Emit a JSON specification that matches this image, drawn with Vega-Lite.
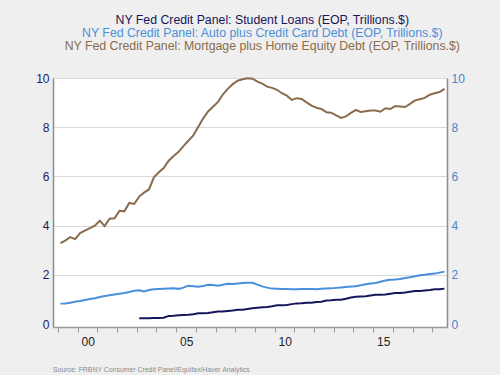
{
  "$schema": "https://vega.github.io/schema/vega-lite/v6.json",
  "autosize": {"type": "none"},
  "width": 394,
  "height": 249,
  "padding": {"left": 53, "top": 78, "right": 53, "bottom": 48},
  "background": "#efefef",
  "config": {"font": "Liberation Sans", "view": {"fill": "white", "stroke": null}},
  "title": {"text": "Source:  FRBNY Consumer Credit Panel/Equifax/Haver Analytics", "orient": "bottom", "anchor": "start", "frame": "group", "fontSize": 6.9, "fontWeight": "normal", "color": "#8a8a8a", "offset": 20},
  "data": {"values": [
    {"d": "1999-02-15", "a": 0.83, "m": 3.29},
    {"d": "1999-05-15", "a": 0.84, "m": 3.39},
    {"d": "1999-08-15", "a": 0.87, "m": 3.53},
    {"d": "1999-11-15", "a": 0.91, "m": 3.45},
    {"d": "2000-02-15", "a": 0.94, "m": 3.70},
    {"d": "2000-05-15", "a": 0.98, "m": 3.80},
    {"d": "2000-08-15", "a": 1.02, "m": 3.90},
    {"d": "2000-11-15", "a": 1.05, "m": 4.00},
    {"d": "2001-02-15", "a": 1.10, "m": 4.20},
    {"d": "2001-05-15", "a": 1.14, "m": 3.98},
    {"d": "2001-08-15", "a": 1.17, "m": 4.28},
    {"d": "2001-11-15", "a": 1.20, "m": 4.30},
    {"d": "2002-02-15", "a": 1.23, "m": 4.60},
    {"d": "2002-05-15", "a": 1.26, "m": 4.58},
    {"d": "2002-08-15", "a": 1.30, "m": 4.92},
    {"d": "2002-11-15", "a": 1.35, "m": 4.88},
    {"d": "2003-02-15", "s": 0.24, "a": 1.37, "m": 5.18},
    {"d": "2003-05-15", "s": 0.24, "a": 1.32, "m": 5.34},
    {"d": "2003-08-15", "s": 0.24, "a": 1.38, "m": 5.47},
    {"d": "2003-11-15", "s": 0.25, "a": 1.41, "m": 5.96},
    {"d": "2004-02-15", "s": 0.25, "a": 1.42, "m": 6.17},
    {"d": "2004-05-15", "s": 0.26, "a": 1.43, "m": 6.34},
    {"d": "2004-08-15", "s": 0.33, "a": 1.44, "m": 6.64},
    {"d": "2004-11-15", "s": 0.34, "a": 1.45, "m": 6.83},
    {"d": "2005-02-15", "s": 0.36, "a": 1.43, "m": 7.00},
    {"d": "2005-05-15", "s": 0.37, "a": 1.48, "m": 7.23},
    {"d": "2005-08-15", "s": 0.38, "a": 1.56, "m": 7.45},
    {"d": "2005-11-15", "s": 0.40, "a": 1.54, "m": 7.67},
    {"d": "2006-02-15", "s": 0.44, "a": 1.52, "m": 8.02},
    {"d": "2006-05-15", "s": 0.44, "a": 1.55, "m": 8.35},
    {"d": "2006-08-15", "s": 0.45, "a": 1.60, "m": 8.64},
    {"d": "2006-11-15", "s": 0.48, "a": 1.59, "m": 8.83},
    {"d": "2007-02-15", "s": 0.51, "a": 1.56, "m": 9.03},
    {"d": "2007-05-15", "s": 0.51, "a": 1.60, "m": 9.33},
    {"d": "2007-08-15", "s": 0.53, "a": 1.64, "m": 9.56},
    {"d": "2007-11-15", "s": 0.55, "a": 1.63, "m": 9.75},
    {"d": "2008-02-15", "s": 0.58, "a": 1.65, "m": 9.89},
    {"d": "2008-05-15", "s": 0.58, "a": 1.67, "m": 9.95},
    {"d": "2008-08-15", "s": 0.61, "a": 1.68, "m": 9.99},
    {"d": "2008-11-15", "s": 0.64, "a": 1.68, "m": 9.97},
    {"d": "2009-02-15", "s": 0.66, "a": 1.60, "m": 9.85},
    {"d": "2009-05-15", "s": 0.68, "a": 1.53, "m": 9.77},
    {"d": "2009-08-15", "s": 0.69, "a": 1.48, "m": 9.65},
    {"d": "2009-11-15", "s": 0.72, "a": 1.44, "m": 9.60},
    {"d": "2010-02-15", "s": 0.76, "a": 1.43, "m": 9.52},
    {"d": "2010-05-15", "s": 0.76, "a": 1.42, "m": 9.38},
    {"d": "2010-08-15", "s": 0.77, "a": 1.42, "m": 9.28},
    {"d": "2010-11-15", "s": 0.81, "a": 1.41, "m": 9.11},
    {"d": "2011-02-15", "s": 0.84, "a": 1.41, "m": 9.18},
    {"d": "2011-05-15", "s": 0.85, "a": 1.42, "m": 9.15},
    {"d": "2011-08-15", "s": 0.87, "a": 1.42, "m": 9.01},
    {"d": "2011-11-15", "s": 0.87, "a": 1.42, "m": 8.88},
    {"d": "2012-02-15", "s": 0.90, "a": 1.41, "m": 8.79},
    {"d": "2012-05-15", "s": 0.91, "a": 1.43, "m": 8.74},
    {"d": "2012-08-15", "s": 0.96, "a": 1.44, "m": 8.61},
    {"d": "2012-11-15", "s": 0.97, "a": 1.45, "m": 8.59},
    {"d": "2013-02-15", "s": 0.99, "a": 1.47, "m": 8.48},
    {"d": "2013-05-15", "s": 0.99, "a": 1.49, "m": 8.38},
    {"d": "2013-08-15", "s": 1.03, "a": 1.51, "m": 8.44},
    {"d": "2013-11-15", "s": 1.08, "a": 1.53, "m": 8.58},
    {"d": "2014-02-15", "s": 1.11, "a": 1.54, "m": 8.70},
    {"d": "2014-05-15", "s": 1.12, "a": 1.58, "m": 8.62},
    {"d": "2014-08-15", "s": 1.13, "a": 1.62, "m": 8.65},
    {"d": "2014-11-15", "s": 1.16, "a": 1.65, "m": 8.68},
    {"d": "2015-02-15", "s": 1.19, "a": 1.67, "m": 8.68},
    {"d": "2015-05-15", "s": 1.19, "a": 1.72, "m": 8.63},
    {"d": "2015-08-15", "s": 1.20, "a": 1.77, "m": 8.77},
    {"d": "2015-11-15", "s": 1.23, "a": 1.80, "m": 8.74},
    {"d": "2016-02-15", "s": 1.26, "a": 1.81, "m": 8.86},
    {"d": "2016-05-15", "s": 1.26, "a": 1.83, "m": 8.84},
    {"d": "2016-08-15", "s": 1.28, "a": 1.87, "m": 8.82},
    {"d": "2016-11-15", "s": 1.31, "a": 1.90, "m": 8.95},
    {"d": "2017-02-15", "s": 1.34, "a": 1.94, "m": 9.09},
    {"d": "2017-05-15", "s": 1.34, "a": 1.98, "m": 9.14},
    {"d": "2017-08-15", "s": 1.36, "a": 2.00, "m": 9.19},
    {"d": "2017-11-15", "s": 1.38, "a": 2.03, "m": 9.32},
    {"d": "2018-02-15", "s": 1.41, "a": 2.05, "m": 9.38},
    {"d": "2018-05-15", "s": 1.41, "a": 2.09, "m": 9.43},
    {"d": "2018-08-15", "s": 1.44, "a": 2.13, "m": 9.56}
  ]},
  "transform": [{"fold": ["s", "a", "m"], "as": ["series", "value"]}],
  "layer": [
    {
      "mark": {"type": "line", "strokeWidth": 2},
      "encoding": {
        "x": {
          "field": "d", "type": "temporal",
          "scale": {"type": "utc", "domain": [{"year": 1998, "month": 10, "date": 1, "utc": true}, {"year": 2018, "month": 10, "date": 1, "utc": true}]},
          "axis": {
            "title": null, "grid": false,
            "values": [{"year": 1999, "utc": true}, {"year": 2000, "utc": true}, {"year": 2001, "utc": true}, {"year": 2002, "utc": true}, {"year": 2003, "utc": true}, {"year": 2004, "utc": true}, {"year": 2005, "utc": true}, {"year": 2006, "utc": true}, {"year": 2007, "utc": true}, {"year": 2008, "utc": true}, {"year": 2009, "utc": true}, {"year": 2010, "utc": true}, {"year": 2011, "utc": true}, {"year": 2012, "utc": true}, {"year": 2013, "utc": true}, {"year": 2014, "utc": true}, {"year": 2015, "utc": true}, {"year": 2016, "utc": true}, {"year": 2017, "utc": true}, {"year": 2018, "utc": true}],
            "labelExpr": "utcyear(datum.value) % 5 == 0 ? utcFormat(datum.value, '%y') : ' '",
            "labelOverlap": false, "labelFlush": false, "labelBound": false, "labelSeparation": 0,
            "labelOffset": 10, "labelPadding": 4, "labelFontSize": 12, "labelColor": "#222222",
            "tickSize": 5, "tickColor": "#9a9a9a", "domainColor": "#9a9a9a", "domainWidth": 1.5
          }
        },
        "y": {
          "field": "value", "type": "quantitative",
          "scale": {"domain": [-0.12, 10], "nice": false, "zero": false},
          "axis": {
            "title": null, "orient": "left", "values": [0, 2, 4, 6, 8, 10],
            "grid": true, "gridColor": "#d9d9d9",
            "gridOpacity": {"condition": {"test": "datum.value === 0", "value": 0}, "value": 1},
            "ticks": false, "labelPadding": 4, "labelFontSize": 12, "labelColor": "#1c1c5e",
            "domainColor": "#8c8c8c", "domainWidth": 1.5
          }
        },
        "color": {
          "field": "series", "type": "nominal",
          "scale": {"domain": ["s", "a", "m"], "range": ["#16165a", "#4a8fdb", "#8a6c4c"]},
          "legend": {
            "orient": "none", "legendX": 197, "legendY": -64, "title": null, "direction": "vertical",
            "symbolOpacity": 0, "symbolSize": 0, "symbolStrokeWidth": 0,
            "labelOffset": 0, "labelAlign": "center", "labelFontSize": 12.3, "labelLimit": 0,
            "rowPadding": 0, "padding": 0,
            "labelExpr": "datum.value == 's' ? 'NY Fed Credit Panel: Student Loans (EOP, Trillions.$)' : datum.value == 'a' ? 'NY Fed Credit Panel: Auto plus Credit Card Debt (EOP, Trillions.$)' : 'NY Fed Credit Panel:  Mortgage plus Home Equity Debt (EOP, Trillions.$)'",
            "encode": {"labels": {"update": {"fill": {"scale": "color", "field": "value"}}}}
          }
        }
      }
    },
    {
      "mark": {"type": "rule", "strokeOpacity": 0},
      "encoding": {
        "y": {
          "field": "value", "type": "quantitative",
          "scale": {"domain": [-0.12, 10], "nice": false, "zero": false},
          "axis": {
            "title": null, "orient": "right", "values": [0, 2, 4, 6, 8, 10], "grid": false,
            "ticks": false, "labelPadding": 4, "labelFontSize": 12, "labelColor": "#4a86c8",
            "domainColor": "#8c8c8c", "domainWidth": 1.5
          }
        }
      }
    }
  ],
  "resolve": {"scale": {"y": "independent"}}
}
